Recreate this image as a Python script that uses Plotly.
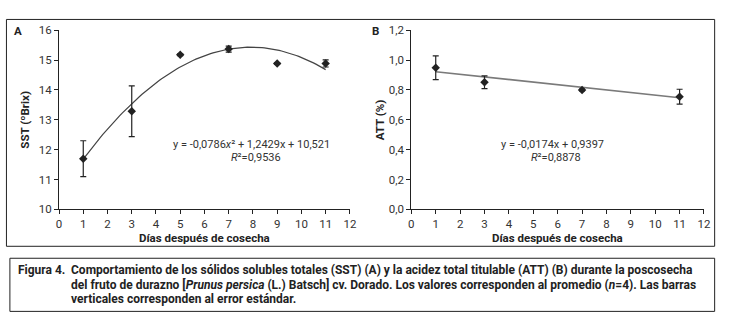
import numpy as np
import plotly.graph_objects as go

# ---- data ----
days_sst = [1, 3, 5, 7, 9, 11]
sst = [11.70, 13.29, 15.18, 15.37, 14.89, 14.89]
sst_err = [0.60, 0.85, 0.03, 0.10, 0.03, 0.12]

days_att = [1, 3, 7, 11]
att = [0.949, 0.852, 0.800, 0.755]
att_err = [0.080, 0.043, 0.006, 0.050]

# regression coefficients printed on the chart
sst_coef = [-0.0786, 1.2429, 10.521]
att_coef = [-0.0174, 0.9397]

x_ticks = list(range(0, 13))
sst_ticks = [10, 11, 12, 13, 14, 15, 16]
att_ticks = [0.0, 0.2, 0.4, 0.6, 0.8, 1.0, 1.2]
att_ticklabels = ["0,0", "0,2", "0,4", "0,6", "0,8", "1,0", "1,2"]

eq_sst = "y = -0,0786<i>x</i>² + 1,2429x + 10,521"
r2_sst = "<i>R</i>²=0,9536"
eq_att = "y = -0,0174x + 0,9397"
r2_att = "<i>R</i>²=0,8878"

caption_label = "Figura 4."
caption_lines = [
    "Comportamiento de los sólidos solubles totales (SST) (A) y la acidez total titulable (ATT) (B) durante la poscosecha",
    "del fruto de durazno [<i>Prunus persica</i> (L.) Batsch] cv. Dorado. Los valores corresponden al promedio (<i>n</i>=4). Las barras",
    "verticales corresponden al error estándar.",
]

W, H = 732, 327
FONT = "Roboto, sans-serif"
INK = "#222222"


def px(x):
    return x / W


def py(y):
    return 1 - y / H


fig = go.Figure()

# trend lines
xs_sst = np.linspace(1, 11, 100)
ys_sst = np.polyval(sst_coef, xs_sst)
fig.add_trace(go.Scatter(x=xs_sst, y=ys_sst, mode="lines",
                         line=dict(color="#444444", width=1.2),
                         xaxis="x", yaxis="y", hoverinfo="skip"))
xs_att = np.array([1, 11])
ys_att = np.polyval(att_coef, xs_att)
fig.add_trace(go.Scatter(x=xs_att, y=ys_att, mode="lines",
                         line=dict(color="#7a7a7a", width=1.6),
                         xaxis="x2", yaxis="y2", hoverinfo="skip"))

# points with error bars
fig.add_trace(go.Scatter(x=days_sst, y=sst, mode="markers",
                         marker=dict(symbol="diamond", size=6.5, color=INK),
                         error_y=dict(type="data", array=sst_err, color=INK,
                                      thickness=1.2, width=3),
                         xaxis="x", yaxis="y"))
fig.add_trace(go.Scatter(x=days_att, y=att, mode="markers",
                         marker=dict(symbol="diamond", size=6.5, color=INK),
                         error_y=dict(type="data", array=att_err, color=INK,
                                      thickness=1.2, width=3),
                         xaxis="x2", yaxis="y2"))

y_dom = [py(211.5), py(24.3)]
axis_common = dict(showgrid=False, zeroline=False, showline=True,
                   linecolor=INK, linewidth=1, ticks="outside", ticklen=4,
                   tickcolor=INK, tickwidth=1,
                   tickfont=dict(family=FONT, size=11.5, color="#333333"))

fig.update_layout(
    width=W, height=H,
    margin=dict(l=0, r=0, t=0, b=0),
    paper_bgcolor="white", plot_bgcolor="white",
    showlegend=False,
    xaxis=dict(domain=[px(56.8), px(351.7)], range=[0, 12], tickvals=x_ticks,
               anchor="y", **axis_common),
    yaxis=dict(domain=y_dom, range=[10, 16], tickvals=sst_ticks,
               anchor="x", **axis_common),
    xaxis2=dict(domain=[px(414), px(710.7)], range=[0, 12], tickvals=x_ticks,
                anchor="y2", **axis_common),
    yaxis2=dict(domain=y_dom, range=[0, 1.2], tickvals=att_ticks,
                ticktext=att_ticklabels, anchor="x2", **axis_common),
)

shapes = [
    dict(type="rect", xref="paper", yref="paper",
         x0=px(3.5), x1=px(721.5), y0=py(250), y1=py(13),
         line=dict(color=INK, width=1)),
    dict(type="rect", xref="paper", yref="paper",
         x0=px(7), x1=px(721.5), y0=py(318), y1=py(262.5),
         line=dict(color=INK, width=1)),
]
fig.update_layout(shapes=shapes)

ann = []


def text(x, y, t, size=11, bold=False, xanchor="center", angle=0, color=INK):
    ann.append(dict(x=px(x), y=py(y), xref="paper", yref="paper", text=t,
                    showarrow=False, xanchor=xanchor, yanchor="middle",
                    textangle=angle, borderpad=0,
                    font=dict(family=FONT, size=size, color=color,
                              weight="bold" if bold else "normal")))


# panel letters
text(15, 25, "A", size=11.5, bold=True)
text(378, 25, "B", size=11.5, bold=True)
# axis titles
text(22, 118, "SST (ºBrix)", size=11.5, bold=True, angle=-90)
text(382.5, 118, "ATT (%)", size=11.5, bold=True, angle=-90)
text(204, 241.5, "Días después de cosecha", size=11.5, bold=True)
text(562, 241.5, "Días después de cosecha", size=11.5, bold=True)
# equations
text(252, 144, eq_sst, size=11, color="#333333")
text(256, 157, r2_sst, size=11, color="#333333")
text(557, 144, eq_att, size=11, color="#333333")
text(561, 157, r2_att, size=11, color="#333333")
# caption
text(14, 275, caption_label, size=12, bold=True, xanchor="left")
for i, line in enumerate(caption_lines):
    text(68, 275 + i * 15.2, line, size=12, bold=True, xanchor="left")

fig.update_layout(annotations=ann)

fig.write_html("out.html", config={"displayModeBar": False},
               post_script="document.body.style.margin='0';")
